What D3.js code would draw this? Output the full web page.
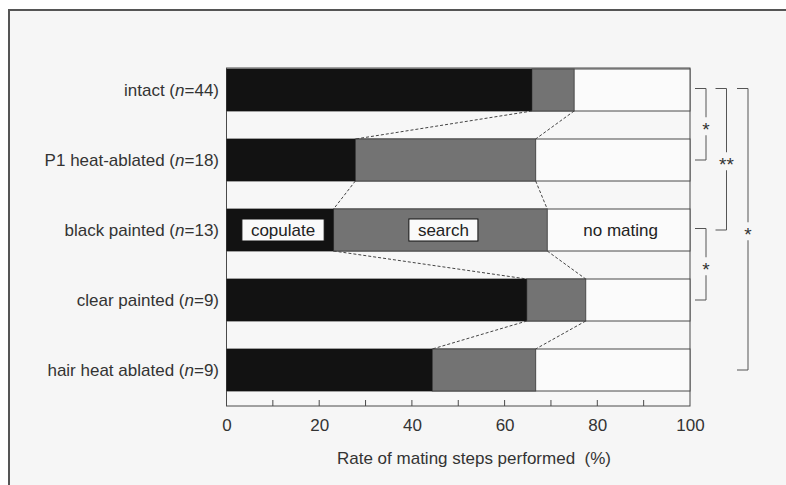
<!DOCTYPE html>
<html>
<head>
<meta charset="utf-8">
<script src="https://cdn.jsdelivr.net/npm/d3@7/dist/d3.min.js"></script>
<style>
  html, body { margin: 0; padding: 0; background: #ffffff; }
  svg { display: block; font-family: "Liberation Sans", Arial, Helvetica, sans-serif; }
</style>
</head>
<body>
<svg id="chart" width="786" height="485"></svg>
<script>
// Treatment groups and their sample sizes
const groups = ["intact", "P1 heat-ablated", "black painted", "clear painted", "hair heat ablated"];
const sampleSizes = [44, 18, 13, 9, 9];

// Percent of males reaching each mating step
const copulate = [65.9, 27.8, 23.1, 64.8, 44.4];
const search = [9.1, 38.9, 46.1, 12.7, 22.3];

// Axis ticks
const labeledTicks = [0, 20, 40, 60, 80, 100];
const minorTicks = [10, 20, 30, 40, 50, 60, 70, 80, 90];

// Pairwise comparisons (group indices) with their significance marks
const compareFrom = [0, 0, 2, 0];
const compareTo = [1, 2, 3, 4];
const compareMark = ["*", "**", "*", "*"];
const compareLevel = [0, 1, 0, 2];

const fontSize = 17;
const svg = d3.select("#chart");

// panel background with left/top rules
svg.append("rect").attr("x", 9).attr("y", 10).attr("width", 777).attr("height", 475).attr("fill", "#f6f6f6");
svg.append("line").attr("x1", 9).attr("x2", 9).attr("y1", 9).attr("y2", 485).attr("stroke", "#555").attr("stroke-width", 2);
svg.append("line").attr("x1", 8).attr("x2", 786).attr("y1", 10).attr("y2", 10).attr("stroke", "#555").attr("stroke-width", 2);

const x = d3.scaleLinear().domain([0, 100]).range([226.5, 690]);
const y = d3.scaleBand().domain(d3.range(groups.length)).range([69, 391]).paddingInner(0.4).paddingOuter(0);

const frameTop = 68, frameBottom = 406;
const lineColor = "#4a4a4a";

// plot frame
svg.append("rect")
  .attr("x", x(0)).attr("y", frameTop)
  .attr("width", x(100) - x(0)).attr("height", frameBottom - frameTop)
  .attr("fill", "#f7f7f7").attr("stroke", lineColor).attr("stroke-width", 1);

const rows = groups.map((g, i) => ({
  i,
  copulate: copulate[i],
  searchEnd: copulate[i] + search[i]
}));

const bars = svg.append("g");
// full row (no mating share shows as the open remainder)
bars.selectAll("rect.row").data(rows).join("rect")
  .attr("class", "row")
  .attr("x", x(0)).attr("y", d => y(d.i))
  .attr("width", x(100) - x(0)).attr("height", y.bandwidth())
  .attr("fill", "#fbfbfb").attr("stroke", lineColor).attr("stroke-width", 1);
// search segment
bars.selectAll("rect.search").data(rows).join("rect")
  .attr("class", "search")
  .attr("x", d => x(d.copulate)).attr("y", d => y(d.i))
  .attr("width", d => x(d.searchEnd) - x(d.copulate)).attr("height", y.bandwidth())
  .attr("fill", "#737373").attr("stroke", lineColor).attr("stroke-width", 1);
// copulate segment
bars.selectAll("rect.cop").data(rows).join("rect")
  .attr("class", "cop")
  .attr("x", x(0)).attr("y", d => y(d.i))
  .attr("width", d => x(d.copulate) - x(0)).attr("height", y.bandwidth())
  .attr("fill", "#121212");

// dashed connectors between consecutive bars
const links = [];
for (let i = 0; i < rows.length - 1; i++) {
  links.push({ a: rows[i].copulate, b: rows[i + 1].copulate, i });
  links.push({ a: rows[i].searchEnd, b: rows[i + 1].searchEnd, i });
}
svg.append("g").selectAll("line").data(links).join("line")
  .attr("x1", d => x(d.a)).attr("y1", d => y(d.i) + y.bandwidth())
  .attr("x2", d => x(d.b)).attr("y2", d => y(d.i + 1))
  .attr("stroke", "#444").attr("stroke-width", 1).attr("stroke-dasharray", "3,2");

// x axis: minor ticks rising from the frame bottom, labels below
const axis = d3.axisBottom(x).tickValues(labeledTicks).tickSize(0).tickPadding(13);
const ax = svg.append("g").attr("transform", `translate(0,${frameBottom})`).call(axis);
ax.select(".domain").remove();
ax.selectAll("text").attr("font-size", fontSize).attr("fill", "#333").attr("font-family", "Liberation Sans, Arial, sans-serif");

svg.append("g").selectAll("line").data(minorTicks).join("line")
  .attr("x1", d => x(d)).attr("x2", d => x(d))
  .attr("y1", frameBottom - 6).attr("y2", frameBottom)
  .attr("stroke", lineColor).attr("stroke-width", 1);

svg.append("text")
  .attr("x", 474).attr("y", 464)
  .attr("text-anchor", "middle").attr("font-size", fontSize).attr("fill", "#333")
  .attr("xml:space", "preserve")
  .text("Rate of mating steps performed  (%)");

// group labels
const labels = svg.append("g").selectAll("text").data(rows).join("text")
  .attr("x", 219).attr("y", d => y(d.i) + y.bandwidth() / 2)
  .attr("dy", "0.36em")
  .attr("text-anchor", "end").attr("font-size", fontSize).attr("fill", "#333");
labels.each(function(d) {
  const t = d3.select(this);
  t.append("tspan").text(groups[d.i] + " (");
  t.append("tspan").attr("font-style", "italic").text("n");
  t.append("tspan").text("=" + sampleSizes[d.i] + ")");
});

// legend labels drawn inside the black painted bar
const keyRow = rows[2];
const keyY = y(keyRow.i) + y.bandwidth() / 2;
const boxed = [
  { text: "copulate", from: 0, to: keyRow.copulate },
  { text: "search", from: keyRow.copulate, to: keyRow.searchEnd }
];
boxed.forEach(b => {
  const cx = (x(b.from) + x(b.to)) / 2 + 3;
  const g = svg.append("g");
  const t = g.append("text").attr("x", cx).attr("y", keyY).attr("dy", "0.36em")
    .attr("text-anchor", "middle").attr("font-size", fontSize).attr("fill", "#222").text(b.text);
  const w = t.node().getComputedTextLength() + 18;
  g.insert("rect", "text")
    .attr("x", cx - w / 2).attr("y", keyY - 11).attr("width", w).attr("height", 22)
    .attr("fill", "#fafafa").attr("stroke", "#111").attr("stroke-width", 1);
});
svg.append("text")
  .attr("x", (x(keyRow.searchEnd) + x(100)) / 2 + 2).attr("y", keyY).attr("dy", "0.36em")
  .attr("text-anchor", "middle").attr("font-size", fontSize).attr("fill", "#222").text("no mating");

// significance brackets
const bracketX = [706, 726.5, 748];
const br = svg.append("g").attr("stroke", "#555").attr("stroke-width", 1).attr("fill", "none");
compareFrom.forEach((f, k) => {
  const vx = bracketX[compareLevel[k]];
  const y1 = y(f) + y.bandwidth() / 2 - 1.5;
  const y2 = y(compareTo[k]) + y.bandwidth() / 2;
  const mid = (y1 + y2) / 2 + 2;
  const gap = 9;
  br.append("path").attr("d", `M${vx - 11},${y1}H${vx}V${mid - gap}`);
  br.append("path").attr("d", `M${vx},${mid + gap}V${y2}H${vx - 11}`);
  svg.append("text").attr("x", vx).attr("y", mid + 10)
    .attr("text-anchor", "middle").attr("font-size", 19).attr("fill", "#333")
    .text(compareMark[k]);
});
</script>
</body>
</html>
